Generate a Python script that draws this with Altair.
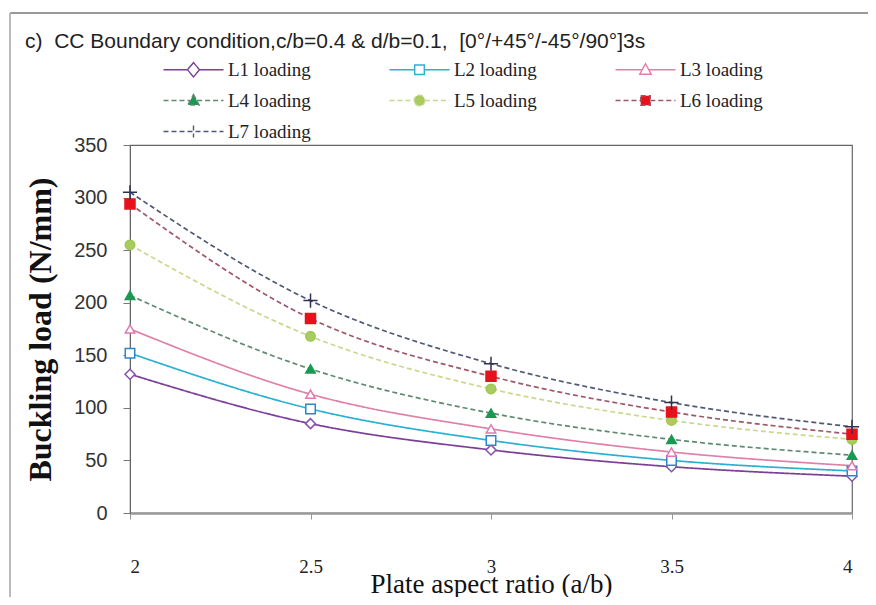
import altair as alt
import pandas as pd

ratios = [2, 2.5, 3, 3.5, 4]
series_names = ["L1 loading", "L2 loading", "L3 loading", "L4 loading",
                "L5 loading", "L6 loading", "L7 loading"]
L1 = [132, 85, 60, 44, 35]
L2 = [152, 99, 69, 50, 40]
L3 = [175, 113, 80, 58, 45]
L4 = [207, 137, 95, 70, 55]
L5 = [255, 168, 118, 88, 70]
L6 = [294, 185, 130, 96, 75]
L7 = [305, 202, 142, 105, 82]
values = [L1, L2, L3, L4, L5, L6, L7]

line_colors = ["#7B3F98", "#2AB0D0", "#E080A8", "#5E8A72", "#C8D890", "#A05868", "#505878"]
marker_colors = ["#8A4FB0", "#2E86C8", "#E07AB0", "#1A9A50", "#9CC850", "#E8101A", "#303050"]
fill_colors = ["white", "white", "white", "#1A9A50", "#A8CC60", "#E8101A", "transparent"]
dashes = [[1, 0], [1, 0], [1, 0], [5, 3], [5, 3], [5, 3], [5, 3]]

marker_shapes = ["diamond", "square", "triangle-up", "triangle-up", "circle", "square",
                 "M-1,0H1M0,-1V1"]
marker_sizes = [100, 90, 90, 90, 90, 100, 200]
legend_shapes = [
    "M-5,0H-1M1,0H5M0,-1.2L1,0L0,1.2L-1,0Z",
    "M-5,0H-0.8M0.8,0H5M-0.8,-0.8H0.8V0.8H-0.8Z",
    "M-5,0H-0.6M0.6,0H5M0,-1L0.95,0.75H-0.95Z",
    "M-5,0H-0.6M0.6,0H5M0,-1L0.95,0.75H-0.95Z",
    "M-5,0H-0.9M0.9,0H5M0.9,0A0.9,0.9,0,1,1,-0.9,0A0.9,0.9,0,1,1,0.9,0Z",
    "M-5,0H-0.8M0.8,0H5M-0.8,-0.8H0.8V0.8H-0.8Z",
    "M-5,0H5M0,-1V1",
]

rows = []
for name, vals in zip(series_names, values):
    for r, v in zip(ratios, vals):
        rows.append({"ratio": r, "load": v, "series": name})
df = pd.DataFrame(rows)

serif = "Liberation Serif"
sans = "Liberation Sans"

x_enc = alt.X("ratio:Q",
              scale=alt.Scale(domain=[2, 4], nice=False, zero=False),
              axis=alt.Axis(values=ratios, title="Plate aspect ratio (a/b)",
                            labelFont=serif, labelFontSize=19, labelColor="#222",
                            labelPadding=38, tickSize=6, tickColor="#999",
                            domainColor="#999", domainWidth=2.5, grid=False,
                            titleFont=serif, titleFontSize=27, titleFontWeight="normal",
                            titleColor="#111", titlePadding=-5,
                            labelExpr="datum.value == 2 ? '2' : datum.value == 3 ? '3' : datum.value == 4 ? '4' : datum.label"))
y_enc = alt.Y("load:Q",
              scale=alt.Scale(domain=[0, 350], nice=False),
              axis=alt.Axis(values=[0, 50, 100, 150, 200, 250, 300, 350],
                            title="Buckling load (N/mm)",
                            labelFont=sans, labelFontSize=20, labelColor="#333",
                            labelPadding=16, tickSize=7, tickColor="#777",
                            domainColor="#666", grid=False,
                            titleFont=serif, titleFontSize=32, titleFontWeight="bold",
                            titleColor="#111", titlePadding=16))

stroke_scale = alt.Scale(domain=series_names, range=line_colors)
fill_scale = alt.Scale(domain=series_names, range=fill_colors)
dash_scale = alt.Scale(domain=series_names, range=dashes)
shape_scale = alt.Scale(domain=series_names, range=legend_shapes)

lines = alt.Chart(df).mark_line(interpolate="monotone", strokeWidth=1.7, opacity=1).encode(
    x=x_enc, y=y_enc,
    stroke=alt.Stroke("series:N", scale=stroke_scale),
    strokeDash=alt.StrokeDash("series:N", scale=dash_scale),
    detail="series:N",
)

point_layers = []
for name, shp, sz, mc, fc in zip(series_names, marker_shapes, marker_sizes,
                                 marker_colors, fill_colors):
    point_layers.append(
        alt.Chart(df).transform_filter(alt.datum.series == name)
        .mark_point(shape=shp, size=sz, strokeWidth=1.5, opacity=1, stroke=mc, fill=fc)
        .encode(x=x_enc, y=y_enc)
    )

leg = alt.Legend(orient="none", legendX=54, legendY=-85, columns=3, direction="horizontal",
                 title=None, symbolSize=144, symbolStrokeWidth=1.4, labelFont=serif,
                 labelFontSize=19, labelColor="#222", labelOffset=25, columnPadding=75,
                 rowPadding=11, gridAlign="all", symbolOpacity=1)

legend_layer = alt.Chart(df).mark_point(size=144, strokeWidth=1.4, opacity=0).encode(
    x=x_enc, y=y_enc,
    stroke=alt.Stroke("series:N", scale=stroke_scale, legend=leg),
    fill=alt.Fill("series:N", scale=fill_scale, legend=leg),
    strokeDash=alt.StrokeDash("series:N", scale=dash_scale, legend=leg),
    shape=alt.Shape("series:N", scale=shape_scale, legend=leg),
)

frame = alt.Chart(df).mark_rule(color="#999", strokeWidth=2).encode(
    x=alt.value(-120), x2=alt.value(746), y=alt.value(-132)
)
frame_left = alt.Chart(df).mark_rule(color="#bbb", strokeWidth=1.5).encode(
    x=alt.value(-120), y=alt.value(-132), y2=alt.value(460)
)

title_text = "c)\u00a0 CC Boundary condition,c/b=0.4 & d/b=0.1,\u00a0 [0°/+45°/-45°/90°]3s"

chart = alt.layer(frame, frame_left, lines, *point_layers, legend_layer).properties(
    width=722, height=368,
    autosize=alt.AutoSizeParams(type="none"),
    padding={"left": 122, "top": 137, "right": 16, "bottom": 84},
    title=alt.TitleParams(title_text,
                          anchor="start", frame="group", dx=-105, offset=-40,
                          font=sans, fontSize=21, fontWeight="normal", color="#222"),
).configure_view(stroke="#666", strokeWidth=1.2)

chart.save("out.html", embed_options={"renderer": "svg", "actions": False})
